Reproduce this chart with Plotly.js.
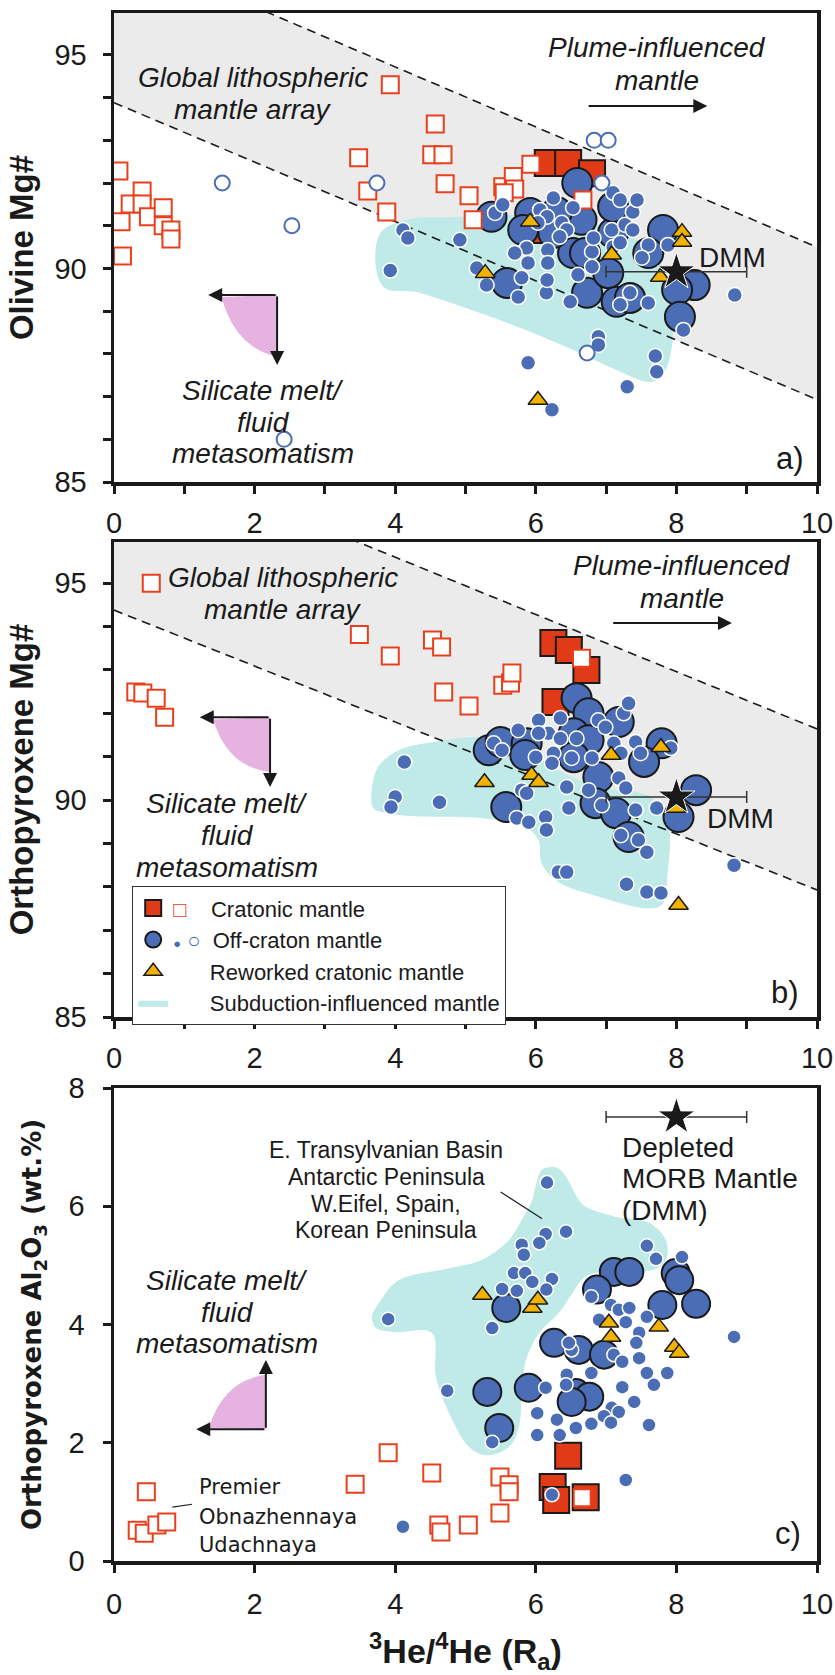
<!DOCTYPE html>
<html><head><meta charset="utf-8">
<script src="https://cdn.plot.ly/plotly-3.0.1.min.js"></script>
<style>body{margin:0;background:#fff}#chart{width:835px;height:1675px}</style>
</head><body><div id="chart"></div>
<script>
// ---------------- DATA ----------------
// shared x ticks
const xTickVals = [0, 2, 4, 6, 8, 10];

// DMM reference value (3He/4He = 8 +/- 1 Ra)
const dmmX = [8];
const dmmErr = 1;
const dmmYa = [89.92];
const dmmYb = [90.07];
const dmmYc = [7.51];

// Global lithospheric mantle array band (x endpoints, lower / upper dashed lines)
const bandX = [0, 10];
const aBandLow = [93.88, 86.93];
const aBandHigh = [97.53, 90.50];
const bBandLow = [94.38, 87.93];
const bBandHigh = [98.24, 91.64];

// Subduction-influenced mantle fields (outlines)
const aFieldX = [3.72, 3.80, 4.20, 4.80, 5.50, 6.20, 6.90, 7.50, 7.85, 7.95, 7.92, 7.80, 7.62, 7.15, 6.44, 5.49, 4.54, 4.30, 3.85, 3.72];
const aFieldY = [90.10, 90.85, 91.15, 91.20, 91.25, 91.20, 91.00, 90.60, 89.90, 88.80, 88.00, 87.50, 87.34, 87.62, 88.16, 88.79, 89.33, 89.45, 89.55, 90.10];
const bFieldX = [3.66, 3.75, 4.05, 4.60, 5.23, 5.80, 6.30, 6.90, 7.60, 7.87, 7.87, 7.80, 7.60, 6.90, 6.32, 6.08, 6.04, 5.85, 5.23, 4.40, 3.95, 3.70, 3.66];
const bFieldY = [90.00, 90.75, 91.15, 91.35, 91.45, 91.20, 90.70, 90.30, 90.10, 89.60, 88.20, 87.60, 87.50, 87.77, 88.11, 88.55, 89.08, 89.38, 89.58, 89.62, 89.68, 89.80, 90.00];
const cFieldX = [3.67, 3.80, 4.05, 4.77, 5.23, 5.62, 5.80, 5.95, 6.00, 6.09, 6.30, 6.43, 6.61, 6.71, 7.14, 7.61, 7.85, 7.85, 7.66, 7.14, 6.71, 6.52, 6.33, 6.05, 5.86, 5.80, 5.76, 5.62, 5.29, 5.05, 4.81, 4.58, 4.52, 4.00, 3.72, 3.67];
const cFieldY = [4.13, 4.42, 4.75, 4.95, 5.09, 5.43, 5.77, 6.11, 6.35, 6.62, 6.65, 6.50, 6.11, 5.99, 5.82, 5.72, 5.43, 5.09, 4.92, 4.92, 4.81, 4.53, 4.20, 3.86, 3.40, 2.84, 2.27, 1.93, 1.79, 1.93, 2.39, 3.11, 3.86, 3.87, 3.95, 4.13];

// ---- Panel a: olivine Mg# ----
const aCratX = [6.17, 6.46, 6.80, 6.15];
const aCratY = [92.47, 92.47, 92.23, 90.90];
const aOpenSqX = [0.07, 0.40, 0.23, 0.40, 0.10, 0.49, 0.70, 0.70, 0.81, 0.81, 0.12, 3.93, 3.48, 3.61, 3.88, 4.57, 4.52, 4.68, 4.71, 5.05, 5.11, 5.53, 5.68, 5.70, 5.55, 5.93, 6.67];
const aOpenSqY = [92.28, 91.81, 91.51, 91.51, 91.09, 91.21, 91.42, 91.00, 90.90, 90.69, 90.29, 94.30, 92.59, 91.81, 91.32, 93.38, 92.66, 92.66, 91.98, 91.70, 91.14, 91.91, 92.15, 91.86, 91.77, 92.44, 91.60];
const aBigX = [6.59, 5.37, 5.92, 5.82, 6.65, 6.53, 7.10, 7.81, 6.73, 7.03, 7.15, 7.34, 5.59, 7.60, 8.26, 8.01, 8.05, 7.10, 6.30, 6.25, 6.70];
const aBigY = [92.00, 91.21, 91.30, 90.90, 91.14, 90.36, 90.83, 90.90, 89.43, 89.89, 89.22, 89.31, 89.66, 90.36, 89.61, 89.50, 88.87, 91.44, 91.32, 90.83, 90.36];
const aSmallX = [4.11, 4.18, 3.93, 4.92, 5.16, 5.30, 5.75, 5.80, 6.15, 6.49, 6.60, 6.80, 6.80, 6.82, 7.10, 7.20, 7.08, 7.27, 7.38, 7.38, 7.44, 7.10, 7.20, 7.60, 7.51, 7.88, 7.60, 7.34, 7.20, 8.10, 8.83, 6.25, 6.06, 6.16, 6.37, 6.44, 6.34, 6.53, 6.03, 5.42, 5.53, 5.87, 5.89, 5.70, 6.17, 6.17, 6.16, 6.89, 6.89, 7.70, 7.72, 7.30, 5.89, 6.23];
const aSmallY = [90.90, 90.71, 89.95, 90.67, 90.01, 89.61, 89.33, 89.78, 89.43, 89.22, 89.85, 90.04, 90.39, 90.71, 90.50, 90.60, 90.90, 91.02, 90.90, 91.32, 91.60, 91.77, 91.60, 90.55, 90.25, 90.55, 89.19, 89.43, 89.15, 88.56, 89.38, 91.65, 91.37, 91.21, 91.07, 90.90, 90.74, 91.42, 91.07, 91.30, 91.49, 90.48, 90.13, 90.36, 90.43, 90.13, 89.73, 88.40, 88.21, 87.95, 87.58, 87.23, 87.79, 86.69];
const aOpenX = [1.54, 2.53, 2.42, 3.74, 6.83, 7.03, 6.94, 6.73];
const aOpenY = [92.0, 91.0, 86.0, 92.0, 93.0, 93.0, 92.0, 88.02];
const aTriX = [5.92, 5.28, 7.08, 7.77, 8.08, 8.08, 6.03];
const aTriY = [91.09, 89.89, 90.32, 89.80, 90.85, 90.62, 86.92];

// ---- Panel b: orthopyroxene Mg# ----
const bCratX = [6.25, 6.47, 6.72, 6.28];
const bCratY = [93.62, 93.46, 93.00, 92.26];
const bOpenSqX = [0.53, 0.31, 0.41, 0.60, 0.72, 3.49, 3.93, 4.53, 4.66, 4.69, 5.05, 5.53, 5.64, 5.66, 6.65];
const bOpenSqY = [95.00, 92.49, 92.47, 92.35, 91.91, 93.82, 93.32, 93.69, 93.53, 92.49, 92.17, 92.65, 92.70, 92.93, 93.27];
const bBigX = [6.58, 6.75, 5.33, 5.50, 5.87, 5.85, 6.54, 6.75, 7.18, 7.79, 7.54, 6.89, 5.58, 6.85, 7.14, 7.32, 8.28, 8.03, 6.54];
const bBigY = [92.35, 92.00, 91.15, 91.34, 91.31, 91.04, 91.54, 91.38, 91.80, 91.31, 90.88, 90.53, 89.84, 89.93, 89.70, 89.15, 90.23, 89.61, 90.99];
const bSmallX = [4.13, 4.00, 3.94, 4.63, 5.40, 5.52, 5.75, 6.04, 6.18, 6.35, 6.04, 6.35, 6.58, 6.89, 6.99, 7.25, 7.32, 7.11, 7.21, 7.42, 7.49, 7.92, 6.00, 6.25, 6.23, 6.51, 6.80, 6.75, 6.44, 6.47, 7.18, 7.28, 7.42, 7.72, 6.94, 7.21, 7.46, 7.58, 5.80, 5.87, 5.73, 5.90, 6.14, 6.15, 6.32, 6.44, 7.29, 7.58, 7.78, 8.82];
const bSmallY = [90.88, 90.07, 89.84, 89.95, 91.31, 91.15, 91.61, 91.84, 91.54, 91.89, 91.54, 91.42, 91.42, 91.84, 91.68, 92.00, 92.23, 91.31, 91.08, 91.34, 91.08, 91.20, 90.99, 91.08, 90.85, 90.97, 90.97, 90.23, 90.30, 89.82, 90.51, 90.28, 89.77, 89.82, 89.88, 89.19, 89.08, 88.80, 90.23, 90.16, 89.59, 89.49, 89.61, 89.31, 88.34, 88.34, 88.06, 87.88, 87.86, 88.50];
const bTriX = [5.27, 5.94, 6.04, 7.07, 7.78, 7.99, 8.03];
const bTriY = [90.41, 90.58, 90.41, 91.04, 91.22, 89.82, 87.58];

// ---- Panel c: orthopyroxene Al2O3 ----
const cCratX = [6.46, 6.24, 6.29, 6.71];
const cCratY = [1.78, 1.25, 1.03, 1.08];
const cOpenSqX = [0.46, 0.33, 0.43, 0.61, 0.75, 3.43, 3.90, 4.52, 4.62, 4.65, 5.04, 5.49, 5.49, 5.62, 5.62, 6.66];
const cOpenSqY = [1.17, 0.52, 0.47, 0.61, 0.66, 1.30, 1.83, 1.49, 0.61, 0.49, 0.61, 0.81, 1.42, 1.29, 1.17, 1.07];
const cBigX = [7.11, 7.33, 6.87, 7.99, 8.04, 8.28, 7.80, 5.58, 6.26, 6.61, 6.97, 5.31, 5.90, 6.57, 6.76, 6.51, 5.48];
const cBigY = [4.89, 4.89, 4.59, 4.87, 4.75, 4.35, 4.33, 4.28, 3.69, 3.57, 3.49, 2.86, 2.93, 2.84, 2.78, 2.69, 2.25];
const cSmallX = [3.90, 4.11, 6.16, 6.43, 6.14, 6.05, 5.80, 5.83, 5.69, 5.85, 6.23, 5.52, 5.73, 5.95, 6.15, 5.38, 4.74, 5.38, 7.58, 7.71, 8.08, 6.79, 7.07, 7.18, 7.33, 7.28, 7.58, 7.47, 6.90, 7.43, 7.11, 7.23, 7.47, 6.51, 6.47, 7.58, 7.87, 7.68, 7.23, 6.79, 6.44, 6.14, 6.43, 7.08, 7.18, 7.40, 6.97, 7.07, 6.79, 6.57, 6.30, 6.02, 6.02, 6.34, 7.61, 8.82, 7.28, 6.23];
const cSmallY = [4.09, 0.58, 6.40, 5.57, 5.53, 5.38, 5.35, 5.18, 4.87, 4.87, 4.77, 4.60, 4.57, 4.72, 4.59, 3.94, 2.88, 2.01, 5.33, 5.11, 5.14, 4.47, 4.33, 4.25, 4.28, 4.04, 4.13, 3.86, 4.08, 3.69, 3.49, 3.37, 3.43, 3.57, 3.69, 3.18, 3.18, 2.98, 2.94, 3.18, 3.15, 2.93, 2.98, 2.59, 2.52, 2.69, 2.45, 2.34, 2.32, 2.25, 2.39, 2.50, 2.13, 2.13, 2.30, 3.79, 1.37, 1.12];
const cTriX = [5.24, 5.95, 6.03, 7.04, 7.07, 7.75, 7.97, 8.04];
const cTriY = [4.50, 4.28, 4.42, 4.03, 3.79, 3.96, 3.62, 3.52];

// ---------------- STYLE ----------------
const F = 'Liberation Sans, Arial, Helvetica, sans-serif';
const INK = '#1a1a1a';
const RED = '#e03a16', RED_LINE = '#e8401c', BLUE = '#4a6db6', GOLD = '#f2b300';
const GREY = '#ebebeb', CYAN = '#bfeae7', PINK = '#e6b3e0';

const M = {
  bigSq: {symbol: 'square', size: 26, color: RED, line: {color: INK, width: 2}},
  openSq: {symbol: 'square', size: 17, color: '#ffffff', line: {color: RED_LINE, width: 2}},
  bigCi: {symbol: 'circle', size: 30, color: BLUE, line: {color: INK, width: 2}},
  smallCi: {symbol: 'circle', size: 15, color: BLUE, line: {color: '#ffffff', width: 1.5}},
  openCi: {symbol: 'circle', size: 15, color: '#ffffff', line: {color: BLUE, width: 2}},
  tri: {symbol: 'triangle-up', size: 17, color: GOLD, line: {color: INK, width: 1.5}},
  star: {symbol: 'star', size: 28, color: INK, line: {color: '#ffffff', width: 1}}
};

function pts(x, y, xa, ya, marker, extra) {
  return Object.assign({type: 'scatter', mode: 'markers', x: x, y: y, xaxis: xa, yaxis: ya,
    marker: marker, showlegend: false, hoverinfo: 'skip'}, extra || {});
}
function field(x, y, xa, ya, extra) {
  return Object.assign({type: 'scatter', mode: 'lines', x: x, y: y, xaxis: xa, yaxis: ya,
    fill: 'toself', fillcolor: CYAN, line: {width: 0, shape: 'spline', smoothing: 1, color: CYAN},
    showlegend: false, hoverinfo: 'skip'}, extra || {});
}
function band(low, high, xa, ya) {
  return [
    {type: 'scatter', mode: 'lines', x: bandX.concat(bandX.slice().reverse()),
      y: low.concat(high.slice().reverse()), xaxis: xa, yaxis: ya, fill: 'toself',
      fillcolor: GREY, line: {width: 0}, showlegend: false, hoverinfo: 'skip'}
  ];
}
function dashes(low, high, xa, ya) {
  return [low, high].map(v => ({type: 'scatter', mode: 'lines', x: bandX, y: v, xaxis: xa, yaxis: ya,
    line: {color: INK, width: 1.6, dash: '9px,6px'}, showlegend: false, hoverinfo: 'skip'}));
}
function dmm(y, xa, ya) {
  return {type: 'scatter', mode: 'markers', x: dmmX, y: y, xaxis: xa, yaxis: ya, marker: M.star,
    error_x: {type: 'constant', value: dmmErr, color: '#333', thickness: 1.5, width: 6},
    showlegend: false, hoverinfo: 'skip'};
}

const sp = n => '\u00a0'.repeat(n);
const legNames = {
  crat: '<span style="color:' + RED_LINE + '">□</span>' + sp(4) + 'Cratonic mantle',
  off: '<span style="color:' + BLUE + ';font-size:13px">●</span><span style="color:' + BLUE + '">' + sp(1) + '○</span>' + sp(2) + 'Off-craton mantle',
  tri: sp(6) + 'Reworked cratonic mantle',
  sub: sp(6) + 'Subduction-influenced mantle'
};

const data = [].concat(
  // panel a
  band(aBandLow, aBandHigh, 'x', 'y'),
  [field(aFieldX, aFieldY, 'x', 'y')],
  dashes(aBandLow, aBandHigh, 'x', 'y'),
  [pts(aCratX, aCratY, 'x', 'y', M.bigSq),
   pts(aBigX, aBigY, 'x', 'y', M.bigCi),
   pts(aOpenSqX, aOpenSqY, 'x', 'y', M.openSq),
   pts(aSmallX, aSmallY, 'x', 'y', M.smallCi),
   pts(aOpenX, aOpenY, 'x', 'y', M.openCi),
   pts(aTriX, aTriY, 'x', 'y', M.tri),
   dmm(dmmYa, 'x', 'y')],
  // panel b
  band(bBandLow, bBandHigh, 'x2', 'y2'),
  [field(bFieldX, bFieldY, 'x2', 'y2', {showlegend: true, name: legNames.sub, legendrank: 4})],
  dashes(bBandLow, bBandHigh, 'x2', 'y2'),
  [pts(bCratX, bCratY, 'x2', 'y2', M.bigSq, {showlegend: true, name: legNames.crat, legendrank: 1}),
   pts(bBigX, bBigY, 'x2', 'y2', M.bigCi, {showlegend: true, name: legNames.off, legendrank: 2}),
   pts(bOpenSqX, bOpenSqY, 'x2', 'y2', M.openSq),
   pts(bSmallX, bSmallY, 'x2', 'y2', M.smallCi),
   pts(bTriX, bTriY, 'x2', 'y2', M.tri, {showlegend: true, name: legNames.tri, legendrank: 3}),
   dmm(dmmYb, 'x2', 'y2')],
  // panel c
  [field(cFieldX, cFieldY, 'x3', 'y3'),
   pts(cCratX, cCratY, 'x3', 'y3', M.bigSq),
   pts(cBigX, cBigY, 'x3', 'y3', Object.assign({}, M.bigCi, {size: 28})),
   pts(cOpenSqX, cOpenSqY, 'x3', 'y3', M.openSq),
   pts(cSmallX, cSmallY, 'x3', 'y3', Object.assign({}, M.smallCi, {size: 14})),
   pts(cTriX, cTriY, 'x3', 'y3', M.tri),
   dmm(dmmYc, 'x3', 'y3')]
);

// ---------------- LAYOUT ----------------
const W = 835, H = 1675, ML = 114, MR = 18, MT = 13, MB = 114;
const PW = W - ML - MR, PH = H - MT - MB;
const P = px => (px - ML) / PW;          // pixel -> paper x
const Q = py => (H - MB - py) / PH;      // pixel -> paper y

const tickFont = {family: F, size: 29, color: INK};
const minor1 = {dtick: 1, ticks: 'outside', ticklen: 8, tickwidth: 3, tickcolor: INK};
const base = {showline: true, linewidth: 3.5, linecolor: INK, mirror: true, ticks: 'outside',
  ticklen: 8, tickwidth: 3, tickcolor: INK, showgrid: false, zeroline: false, tickfont: tickFont,
  fixedrange: true, automargin: false};

const layout = {
  width: W, height: H, margin: {l: ML, r: MR, t: MT, b: MB},
  paper_bgcolor: '#ffffff', plot_bgcolor: '#ffffff', hovermode: false,
  showlegend: true,
  legend: {x: P(132), y: Q(886), xanchor: 'left', yanchor: 'top', bgcolor: '#ffffff',
    bordercolor: '#333', borderwidth: 1.2, font: {family: F, size: 22, color: INK},
    traceorder: 'normal', itemsizing: 'trace'},
  xaxis: Object.assign({}, base, {domain: [0, 1], anchor: 'y', range: [0, 10], tickvals: xTickVals, minor: minor1, ticklabelstandoff: 5}),
  yaxis: Object.assign({}, base, {domain: [Q(482), Q(13)], anchor: 'x', range: [85, 95.98], dtick: 5, tick0: 0, minor: minor1, ticklabelstandoff: 10,
    title: {text: '<b>Olivine Mg#</b>', font: {family: F, size: 33, color: INK}, standoff: 12}}),
  xaxis2: Object.assign({}, base, {domain: [0, 1], anchor: 'y2', range: [0, 10], tickvals: xTickVals, minor: minor1, ticklabelstandoff: 5}),
  yaxis2: Object.assign({}, base, {domain: [Q(1017), Q(542)], anchor: 'x2', range: [85, 95.95], dtick: 5, tick0: 0, minor: minor1, ticklabelstandoff: 10,
    title: {text: '<b>Orthopyroxene Mg#</b>', font: {family: F, size: 33, color: INK}, standoff: 12}}),
  xaxis3: Object.assign({}, base, {domain: [0, 1], anchor: 'y3', range: [0, 10], tickvals: xTickVals, ticklabelstandoff: 7,
    title: {text: '<b><sup>3</sup>He/<sup>4</sup>He (R<sub>a</sub>)</b>', font: {family: F, size: 34, color: INK}, standoff: 22}}),
  yaxis3: Object.assign({}, base, {domain: [0, Q(1088)], anchor: 'x3', range: [0, 8], dtick: 2, tick0: 0, ticklabelstandoff: 12,
    title: {text: '<b>Orthopyroxene Al<sub>2</sub>O<sub>3</sub> (wt.%)</b>', font: {family: 'DejaVu Sans, Verdana, sans-serif', size: 26, color: INK}, standoff: 20}}),
  annotations: [],
  shapes: []
};

function label(text, xpx, ypx, size, opt) {
  opt = opt || {};
  return {text: text, x: P(xpx), y: Q(ypx), xref: 'paper', yref: 'paper', showarrow: false,
    xanchor: opt.anchor || 'center', yanchor: 'middle',
    font: {family: opt.family || F, size: size, color: INK}};
}
function arrow(xr, yr, x0, y0, x1, y1) {
  return {xref: xr, yref: yr, axref: xr, ayref: yr, x: x1, y: y1, ax: x0, ay: y0, text: '',
    showarrow: true, arrowhead: 2, arrowsize: 1.4, arrowwidth: 2, arrowcolor: INK, standoff: 0, startstandoff: 0};
}
const A = layout.annotations, S = layout.shapes;

// panel a texts
A.push(label('<i>Global lithospheric</i>', 253, 77, 28), label('<i>mantle array</i>', 253, 110, 28));
A.push(label('<i>Plume-influenced</i>', 657, 48, 28), label('<i>mantle</i>', 657, 80, 28));
A.push(label('<i>Silicate melt/</i>', 263, 390, 28), label('<i>fluid</i>', 263, 422, 28), label('<i>metasomatism</i>', 263, 453, 28));
A.push(label('DMM', 732, 257, 28), label('a)', 790, 458, 31));
A.push(arrow('x', 'y', 6.73, 93.8, 8.44, 93.8));
A.push(arrow('x', 'y', 2.32, 89.38, 1.34, 89.38), arrow('x', 'y', 2.32, 89.38, 2.32, 87.74));
S.push({type: 'path', xref: 'x', yref: 'y', path: 'M 1.53 89.33 L 2.32 89.38 L 2.32 87.93 Q 1.72 88.15 1.53 89.33 Z', fillcolor: PINK, line: {width: 0}});

// panel b texts
A.push(label('<i>Global lithospheric</i>', 283, 578, 28), label('<i>mantle array</i>', 283, 609, 28));
A.push(label('<i>Plume-influenced</i>', 682, 565, 28), label('<i>mantle</i>', 682, 598, 28));
A.push(label('<i>Silicate melt/</i>', 227, 803, 28), label('<i>fluid</i>', 227, 835, 28), label('<i>metasomatism</i>', 227, 867, 28));
A.push(label('DMM', 740, 818, 28), label('b)', 785, 992, 31));
A.push(arrow('x2', 'y2', 7.08, 94.08, 8.79, 94.08));
A.push(arrow('x2', 'y2', 2.22, 91.91, 1.22, 91.91), arrow('x2', 'y2', 2.22, 91.91, 2.22, 90.3));
S.push({type: 'path', xref: 'x2', yref: 'y2', path: 'M 1.41 91.86 L 2.22 91.91 L 2.22 90.65 Q 1.62 90.75 1.41 91.86 Z', fillcolor: PINK, line: {width: 0}});

// panel c texts
A.push(label('<i>Silicate melt/</i>', 227, 1280, 28), label('<i>fluid</i>', 227, 1312, 28), label('<i>metasomatism</i>', 227, 1343, 28));
A.push(arrow('x3', 'y3', 2.16, 2.23, 1.17, 2.23), arrow('x3', 'y3', 2.16, 2.23, 2.16, 3.4));
S.push({type: 'path', xref: 'x3', yref: 'y3', path: 'M 1.35 2.25 L 2.16 2.23 L 2.16 3.15 Q 1.55 3.05 1.35 2.25 Z', fillcolor: PINK, line: {width: 0}});
A.push(label('E. Transylvanian Basin', 386, 1150, 23), label('Antarctic Peninsula', 386, 1177, 23),
  label('W.Eifel, Spain,', 386, 1204, 23), label('Korean Peninsula', 386, 1230, 23));
S.push({type: 'line', xref: 'x3', yref: 'y3', x0: 5.5, y0: 6.24, x1: 6.09, y1: 5.79, line: {color: '#222', width: 1.2}});
A.push(label('Depleted', 620, 1147, 28, {anchor: 'left'}), label('MORB Mantle', 620, 1178, 28, {anchor: 'left'}),
  label('(DMM)', 620, 1210, 28, {anchor: 'left'}));
const DJ = 'DejaVu Sans, Verdana, sans-serif';
A.push(label('Premier', 197, 1487, 21, {anchor: 'left', family: DJ}), label('Obnazhennaya', 197, 1517, 21, {anchor: 'left', family: DJ}),
  label('Udachnaya', 197, 1545, 21, {anchor: 'left', family: DJ}));
S.push({type: 'line', xref: 'x3', yref: 'y3', x0: 0.83, y0: 0.91, x1: 1.11, y1: 0.96, line: {color: '#222', width: 1.2}});
A.push(label('c)', 788, 1533, 31));

Plotly.newPlot('chart', data, layout, {staticPlot: true, displayModeBar: false});
</script></body></html>
